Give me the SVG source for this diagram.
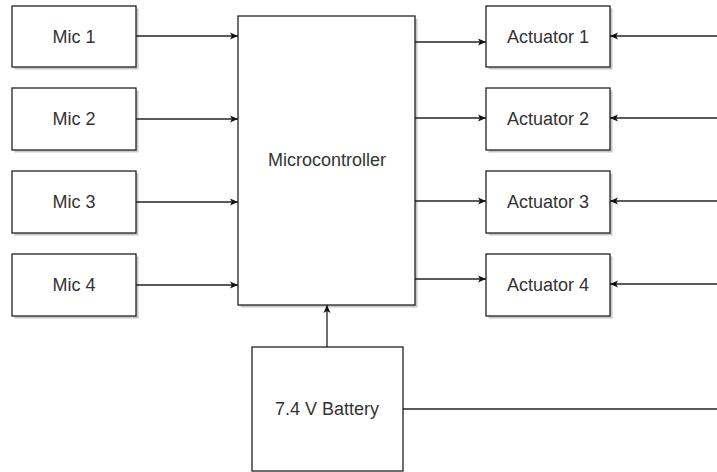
<svg xmlns="http://www.w3.org/2000/svg" width="717" height="472" viewBox="0 0 717 472">
<defs>
<style>
.box{fill:#fff;stroke:#222;stroke-width:1.3}
.sh{fill:#c8c8c8}
.lbl{font-family:"Liberation Sans",Arial,sans-serif;font-size:18px;fill:#333;text-anchor:middle;dominant-baseline:central}
.conn{stroke:#222;stroke-width:1.3;fill:none}
</style>
<marker id="arr" markerUnits="userSpaceOnUse" markerWidth="10" markerHeight="10" viewBox="0 0 10 10" refX="9" refY="5" orient="auto">
<path d="M1,1.5 L9,5 L1,8.5 L3,5 Z" fill="#111"/>
</marker>
</defs>
<rect width="717" height="472" fill="#fff"/>
<g id="mic1"><rect class="sh" x="14.5" y="8.5" width="124" height="61"/><rect class="box" x="12" y="6" width="124" height="61"/><text class="lbl" x="74" y="36.5">Mic 1</text></g>
<g id="mic2"><rect class="sh" x="14.5" y="90.5" width="124" height="62"/><rect class="box" x="12" y="88" width="124" height="62"/><text class="lbl" x="74" y="119">Mic 2</text></g>
<g id="mic3"><rect class="sh" x="14.5" y="173.5" width="124" height="62"/><rect class="box" x="12" y="171" width="124" height="62"/><text class="lbl" x="74" y="202">Mic 3</text></g>
<g id="mic4"><rect class="sh" x="14.5" y="256.5" width="124" height="62"/><rect class="box" x="12" y="254" width="124" height="62"/><text class="lbl" x="74" y="285">Mic 4</text></g>
<g id="mcu"><rect class="sh" x="240.5" y="18.5" width="177" height="289"/><rect class="box" x="238" y="16" width="177" height="289"/><text class="lbl" x="327" y="160">Microcontroller</text></g>
<g id="act1"><rect class="sh" x="488.5" y="8.5" width="124" height="61"/><rect class="box" x="486" y="6" width="124" height="61"/><text class="lbl" x="548" y="36.5">Actuator 1</text></g>
<g id="act2"><rect class="sh" x="488.5" y="90.5" width="124" height="62"/><rect class="box" x="486" y="88" width="124" height="62"/><text class="lbl" x="548" y="119">Actuator 2</text></g>
<g id="act3"><rect class="sh" x="488.5" y="173.5" width="124" height="62"/><rect class="box" x="486" y="171" width="124" height="62"/><text class="lbl" x="548" y="202">Actuator 3</text></g>
<g id="act4"><rect class="sh" x="488.5" y="256.5" width="124" height="62"/><rect class="box" x="486" y="254" width="124" height="62"/><text class="lbl" x="548" y="285">Actuator 4</text></g>
<g id="battery"><rect class="box" x="252" y="347" width="151" height="124"/><text class="lbl" x="327" y="409">7.4 V Battery</text></g>
<g id="connectors">
<line class="conn" x1="136" y1="36" x2="238" y2="36" marker-end="url(#arr)"/>
<line class="conn" x1="136" y1="119" x2="238" y2="119" marker-end="url(#arr)"/>
<line class="conn" x1="136" y1="202" x2="238" y2="202" marker-end="url(#arr)"/>
<line class="conn" x1="136" y1="285" x2="238" y2="285" marker-end="url(#arr)"/>
<line class="conn" x1="415" y1="42" x2="486" y2="42" marker-end="url(#arr)"/>
<line class="conn" x1="415" y1="118" x2="486" y2="118" marker-end="url(#arr)"/>
<line class="conn" x1="415" y1="201" x2="486" y2="201" marker-end="url(#arr)"/>
<line class="conn" x1="415" y1="279" x2="486" y2="279" marker-end="url(#arr)"/>
<line class="conn" x1="717" y1="36" x2="610" y2="36" marker-end="url(#arr)"/>
<line class="conn" x1="717" y1="118" x2="610" y2="118" marker-end="url(#arr)"/>
<line class="conn" x1="717" y1="201" x2="610" y2="201" marker-end="url(#arr)"/>
<line class="conn" x1="717" y1="284" x2="610" y2="284" marker-end="url(#arr)"/>
<line class="conn" x1="327" y1="347" x2="327" y2="305" marker-end="url(#arr)"/>
<line class="conn" x1="403" y1="409" x2="717" y2="409"/>
</g>
</svg>
